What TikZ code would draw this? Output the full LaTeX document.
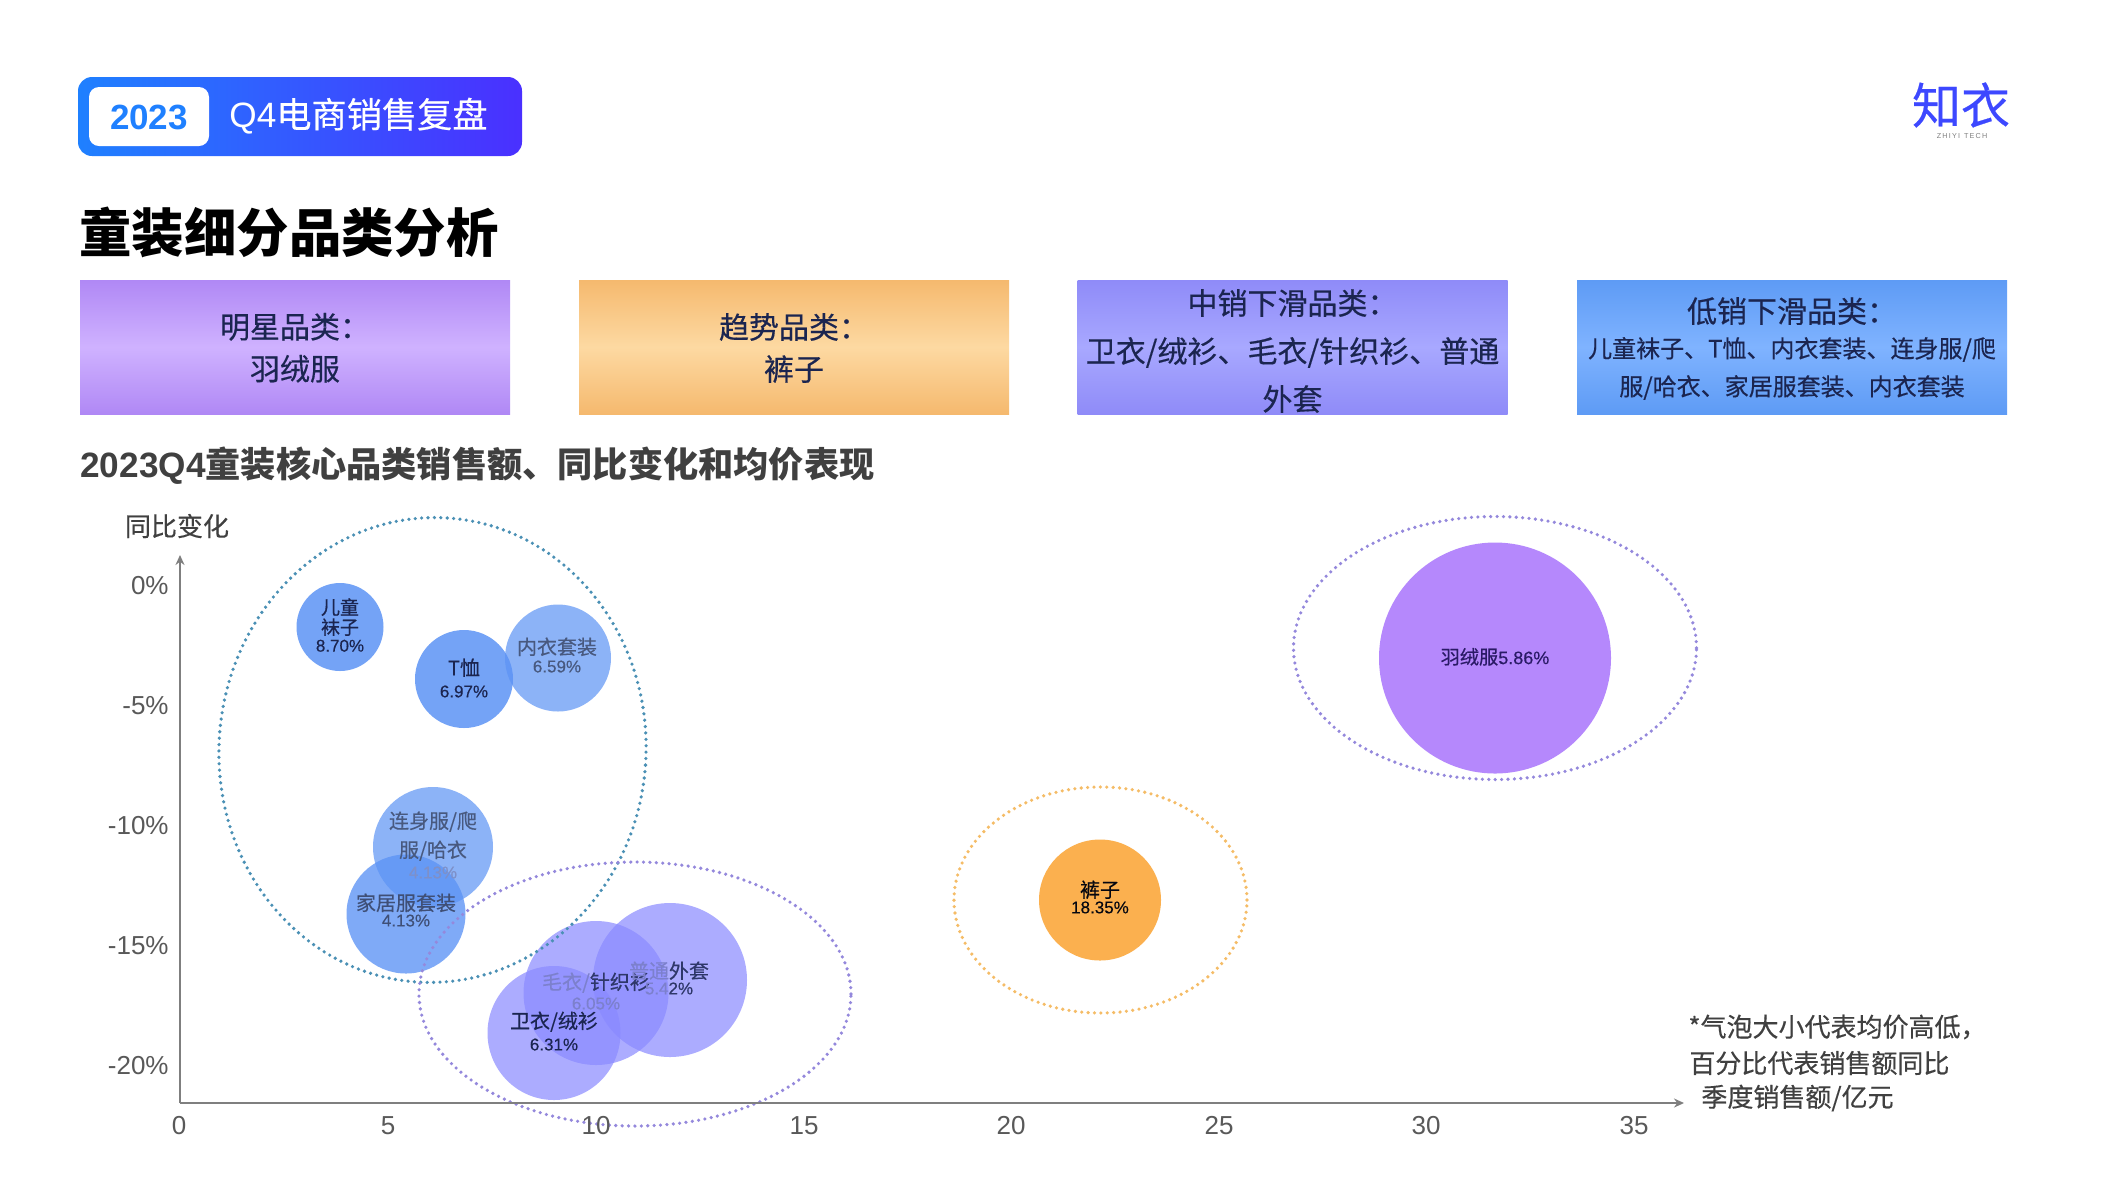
\documentclass[tikz,border=0pt]{standalone}
\usepackage{fontspec}
\setmainfont{Liberation Sans}
\newfontfamily\cjk{Noto Sans CJK SC}
\newfontfamily\cjkm[FakeBold=0.4]{Noto Sans CJK SC}
\newfontfamily\latm[FakeBold=0.3]{Liberation Sans}
\usetikzlibrary{arrows.meta,shapes.geometric}
\definecolor{hdrL}{HTML}{1F80FF}
\definecolor{hdrR}{HTML}{4A30FF}
\definecolor{grayT}{HTML}{404040}
\definecolor{tick}{HTML}{595959}
\definecolor{axisC}{HTML}{7F7F7F}
\definecolor{inkD}{HTML}{1B2550}
\definecolor{inkM}{HTML}{48597F}
\definecolor{inkF}{HTML}{7E90C8}
\definecolor{inkP}{HTML}{7C80CC}
\definecolor{inkV}{HTML}{2A1A66}
\definecolor{bluB}{HTML}{5C93F5}
\definecolor{purB}{HTML}{8A8AFF}
\definecolor{dotB}{HTML}{4A90B5}
\definecolor{dotP}{HTML}{9488DC}
\definecolor{dotO}{HTML}{F5BC66}
\definecolor{violA}{HTML}{B088F5}\definecolor{violM}{HTML}{CFB2FF}
\definecolor{oranA}{HTML}{F5B96E}\definecolor{oranM}{HTML}{FDD9A2}
\definecolor{periA}{HTML}{8F8BF8}\definecolor{periM}{HTML}{A8A8FF}
\definecolor{skyA}{HTML}{5E9BF5}\definecolor{skyM}{HTML}{7FB3FF}
\definecolor{starF}{HTML}{B588FC}
\definecolor{trendF}{HTML}{FBB04F}
\tikzset{
  bubble/.style={shape=ellipse,inner sep=0pt,outer sep=0pt},
  ring/.style={shape=ellipse,inner sep=0pt,outer sep=0pt,draw,line width=1.8pt,line cap=round,dash pattern=on 0pt off 3.2pt},
  catbox/.style={shape=rectangle,inner sep=0pt,outer sep=0pt,minimum width=215pt,minimum height=67pt},
  boxtext/.style={inner sep=0pt,outer sep=0pt,align=center,text=inkD},
  lab/.style={inner sep=0pt,outer sep=0pt,align=center,text=inkD},
  ytick/.style={inner sep=0pt,anchor=east,text=tick,font=\fontsize{13}{15}\selectfont},
  xtick/.style={inner sep=0pt,text=tick,font=\fontsize{13}{15}\selectfont},
  axisline/.style={draw=axisC,line width=1.4pt,-{Stealth[length=5pt,width=4.5pt]}}
}
\newcommand\Ca[1]{{\cjkm\fontsize{10}{11}\selectfont #1}}
\newcommand\Pc[1]{{\latm\fontsize{8.5}{10}\selectfont #1}}
\begin{document}
\begin{tikzpicture}[x=0.5pt,y=-0.5pt]
\useasboundingbox (0,0) rectangle (2110,1191);
\fill[white] (0,0) rectangle (2110,1191);
% header
\node[shape=rectangle,rounded corners=7pt,left color=hdrL,right color=hdrR,minimum width=222pt,minimum height=39.5pt,inner sep=0pt] (hdr) at (300,116.5) {};
\node[shape=rectangle,rounded corners=5pt,fill=white,minimum width=60pt,minimum height=29.5pt,inner sep=0pt] (yearbox) at (149,116.5) {};
\node[inner sep=0pt,text=hdrL] (year) at (149,117) {\fontsize{17.5}{20}\selectfont\bfseries 2023};
\node[inner sep=0pt,anchor=west,text=white] (hdrtext) at (229,116) {\fontsize{17.6}{20}\selectfont Q4{\cjkm 电商销售复盘}};
% title
\node[inner sep=0pt,anchor=west,text=black] (title) at (79,232) {\cjk\bfseries\fontsize{26.2}{30}\selectfont 童装细分品类分析};
% logo
\node[inner sep=0pt,text=hdrR!70!hdrL] (logo) at (1961,105) {\cjkm\fontsize{24.5}{26}\selectfont 知衣};
\node[inner sep=0pt,text=gray] (logosub) at (1962,136) {\fontsize{3.6}{4}\selectfont Z\,H\,I\,Y\,I\;\;T\,E\,C\,H};
% category boxes
\node[catbox,top color=violA,bottom color=violA,middle color=violM] (box1) at (295,347) {};
\node[catbox,top color=oranA,bottom color=oranA,middle color=oranM] (box2) at (794,347) {};
\node[catbox,top color=periA,bottom color=periA,middle color=periM] (box3) at (1292.5,347) {};
\node[catbox,top color=skyA,bottom color=skyA,middle color=skyM] (box4) at (1792,347) {};
\node[boxtext,font=\cjkm\fontsize{15}{21}\selectfont] (box1t) at (295,348) {明星品类：\\ 羽绒服};
\node[boxtext,font=\cjkm\fontsize{15}{21}\selectfont] (box2t) at (794,348) {趋势品类：\\ 裤子};
\node[boxtext,font=\cjkm\fontsize{15}{24}\selectfont] (box3t) at (1292.5,351) {中销下滑品类：\\ 卫衣/绒衫、毛衣/针织衫、普通\\ 外套};
\node[boxtext,font=\cjkm\fontsize{12}{19}\selectfont] (box4t) at (1792,348.5) {{\fontsize{15}{18}\selectfont 低销下滑品类：}\\[-1.5pt] 儿童袜子、T恤、内衣套装、连身服/爬\\ 服/哈衣、家居服套装、内衣套装};
% subtitle
\node[inner sep=0pt,anchor=west,text=grayT] (subtitle) at (80,466) {\fontsize{17.6}{20}\selectfont\bfseries 2023Q4{\cjk\bfseries 童装核心品类销售额、同比变化和均价表现}};
% bubbles
\node[bubble,fill=bluB,fill opacity=.85,minimum width=43.5pt,minimum height=44pt] (socks) at (340,627) {};
\node[bubble,fill=bluB,fill opacity=.85,minimum width=49pt,minimum height=49pt] (tee) at (464,679) {};
\node[bubble,fill=bluB,fill opacity=.7,minimum width=53pt,minimum height=53.5pt] (under) at (558,658) {};
\node[bubble,fill=bluB,fill opacity=.7,minimum width=60pt,minimum height=60pt] (romper) at (433,847) {};
\node[bubble,fill=bluB,fill opacity=.78,minimum width=59.5pt,minimum height=59.5pt] (home) at (406,914) {};
\node[bubble,fill=purB,fill opacity=.7,minimum width=77pt,minimum height=77pt] (coat) at (670,980) {};
\node[bubble,fill=purB,fill opacity=.7,minimum width=72.5pt,minimum height=72pt] (sweater) at (596,993) {};
\node[bubble,fill=purB,fill opacity=.7,minimum width=66.5pt,minimum height=67pt] (hoodie) at (554,1033) {};
\node[bubble,fill=starF,minimum width=116pt,minimum height=115.5pt] (down) at (1495,658) {};
\node[bubble,fill=trendF,minimum width=61pt,minimum height=60.5pt] (pants) at (1100,900) {};
% rings
\node[ring,draw=dotB,minimum width=213.5pt,minimum height=232.5pt,rotate=-4] (ringlow) at (432.5,750) {};
\node[ring,draw=dotP,minimum width=216pt,minimum height=132pt] (ringmid) at (635,994) {};
\node[ring,draw=dotO,minimum width=146.5pt,minimum height=113pt] (ringtrend) at (1100.5,900) {};
\node[ring,draw=dotP,minimum width=201.5pt,minimum height=131.5pt] (ringstar) at (1495,648) {};
% axes
\coordinate (origin) at (180,1103);
\coordinate (ytop) at (180,555);
\coordinate (xend) at (1684,1103);
\draw[axisline] (origin) -- (ytop);
\draw[axisline] (origin) -- (xend);
\node[inner sep=0pt,text=grayT] (ylabel) at (177,526) {\cjkm\fontsize{13}{15}\selectfont 同比变化};
\node[ytick] (y0) at (169,586) {0\%};
\node[ytick] (y5) at (169,706) {-5\%};
\node[ytick] (y10) at (169,826) {-10\%};
\node[ytick] (y15) at (169,946) {-15\%};
\node[ytick] (y20) at (169,1066) {-20\%};
\node[xtick] (x0) at (179,1126) {0};
\node[xtick] (x5) at (388,1126) {5};
\node[xtick] (x10) at (596,1126) {10};
\node[xtick] (x15) at (804,1126) {15};
\node[xtick] (x20) at (1011,1126) {20};
\node[xtick] (x25) at (1219,1126) {25};
\node[xtick] (x30) at (1426,1126) {30};
\node[xtick] (x35) at (1634,1126) {35};
% bubble labels
\node[lab,font=\cjkm\fontsize{9.5}{10}\selectfont] (socksl) at (340,625) {儿童\\ 袜子\\[-1.4pt] \Pc{8.70\%}};
\node[lab] (teel) at (464,678) {\Ca{T恤}\\[-1pt] \Pc{6.97\%}};
\node[lab,text=inkM] (underl) at (557,655) {\Ca{内衣套装}\\[-3pt] \Pc{6.59\%}};
\node[lab,text=inkM] (romperl) at (433,845) {\Ca{连身服/爬}\\[2.5pt] \Ca{服/哈衣}\\[-1.5pt] \textcolor{inkF}{\Pc{4.13\%}}};
\node[lab,text=inkM!80!inkD] (homel) at (406,910) {\Ca{家居服套装}\\[-4pt] \Pc{4.13\%}};
\node[lab] (sweaterl) at (596,991) {\Ca{\textcolor{inkP}{毛衣/}\textcolor{inkD!80!inkP}{针织衫}}\\[-2pt] \textcolor{inkP}{\Pc{6.05\%}}};
\node[lab] (coatl) at (669,978) {\Ca{\textcolor{inkP}{普通}\textcolor{inkD!80!inkP}{外套}}\\[-4pt] \Pc{\textcolor{inkP}{5.4}\textcolor{inkD!80!inkP}{2\%}}};
\node[lab] (hoodiel) at (554,1031) {\Ca{卫衣/绒衫}\\[-1pt] \Pc{6.31\%}};
\node[lab,text=inkV] (downl) at (1495,657) {{\cjkm\fontsize{9.6}{11}\selectfont 羽绒服}{\latm\fontsize{9}{11}\selectfont 5.86\%}};
\node[lab,text=black!80!inkD] (pantsl) at (1100,897) {\Ca{裤子}\\[-4pt] \Pc{18.35\%}};
% note
\node[inner sep=0pt,anchor=west,text=grayT] (note1) at (1688,1027) {\cjkm\fontsize{13}{15}\selectfont *气泡大小代表均价高低，};
\node[inner sep=0pt,anchor=west,text=grayT] (note2) at (1689,1063) {\cjkm\fontsize{13}{15}\selectfont 百分比代表销售额同比};
\node[inner sep=0pt,anchor=west,text=grayT] (note3) at (1701,1098) {\cjkm\fontsize{13}{15}\selectfont 季度销售额/亿元};
\end{tikzpicture}
\end{document}
